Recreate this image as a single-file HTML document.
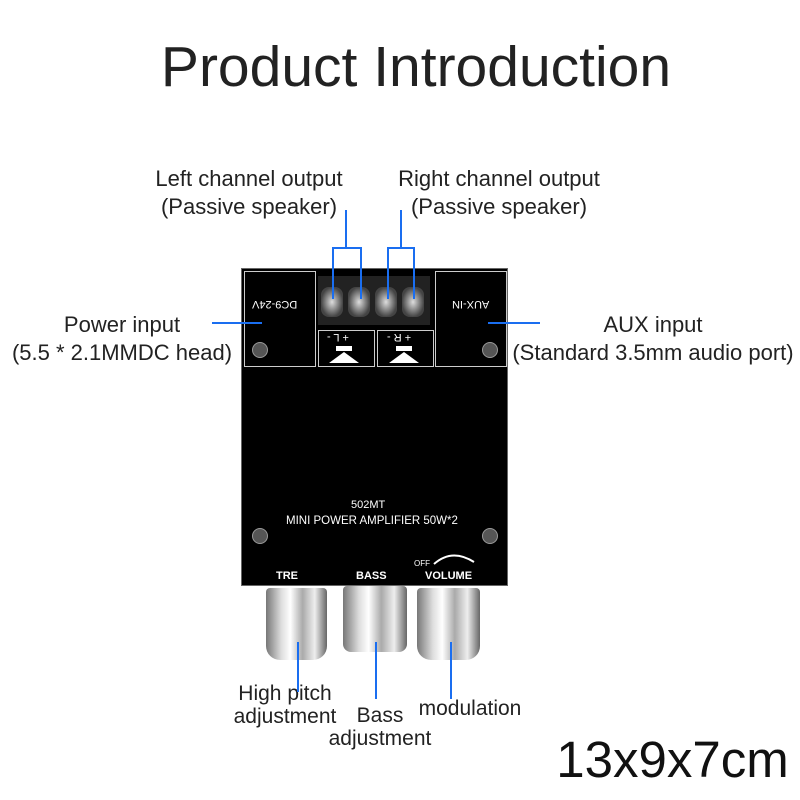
<!DOCTYPE html>
<html><head><style>
body{margin:0;width:800px;height:800px;background:#fff;position:relative;overflow:hidden;font-family:"Liberation Sans",sans-serif;color:#222}
.t{position:absolute;white-space:nowrap;text-align:center}
.l{position:absolute;background:#1a6ef0}
.b{position:absolute;background:#000}
.w{position:absolute;color:#fff;font-size:11px;white-space:nowrap}
.knob{position:absolute;background:linear-gradient(90deg,#777,#ddd 25%,#fff 40%,#aaa 60%,#eee 80%,#666);border-radius:4px 4px 14px 14px}
.screw{position:absolute;width:14px;height:14px;border-radius:50%;background:#555;border:1px solid #999}
.term{position:absolute;width:22px;height:30px;top:287px;border-radius:8px;background:radial-gradient(#ddd,#444 70%)}
</style></head><body>
<div class="t" style="left:0;width:832px;top:34px;font-size:57px;color:#222">Product Introduction</div>
<div class="t" style="left:99px;width:300px;top:165px;font-size:22px;line-height:28px">Left channel output<br>(Passive speaker)</div>
<div class="t" style="left:349px;width:300px;top:165px;font-size:22px;line-height:28px">Right channel output<br>(Passive speaker)</div>
<div class="t" style="left:-28px;width:300px;top:311px;font-size:22px;line-height:28px">Power input<br>(5.5 * 2.1MMDC head)</div>
<div class="t" style="left:503px;width:300px;top:311px;font-size:22px;line-height:28px">AUX input<br>(Standard 3.5mm audio port)</div>
<div class="t" style="left:205px;width:160px;top:682px;font-size:21px;line-height:23px">High pitch<br>adjustment</div>
<div class="t" style="left:300px;width:160px;top:704px;font-size:21px;line-height:23px">Bass<br>adjustment</div>
<div class="t" style="left:390px;width:160px;top:697px;font-size:21px">modulation</div>
<div class="t" style="left:540px;width:265px;top:730px;font-size:51px;color:#111">13x9x7cm</div>

<!-- board -->
<div class="b" style="left:241px;top:268px;width:267px;height:318px;border:1px solid #666;box-sizing:border-box"></div>
<div class="b" style="left:244px;top:271px;width:70px;height:94px;border:1px solid #ccc"></div>
<div class="b" style="left:435px;top:271px;width:70px;height:94px;border:1px solid #ccc"></div>
<div class="w" style="left:252px;top:298px;transform:rotate(180deg)">DC9-24V</div>
<div class="w" style="left:452px;top:298px;transform:rotate(180deg)">AUX-IN</div>
<div class="screw" style="left:252px;top:342px"></div>
<div class="screw" style="left:482px;top:342px"></div>
<div class="screw" style="left:252px;top:528px"></div>
<div class="screw" style="left:482px;top:528px"></div>
<div style="position:absolute;left:318px;top:276px;width:112px;height:49px;background:#222"></div>
<div class="term" style="left:321px"></div><div class="term" style="left:348px"></div>
<div class="term" style="left:375px"></div><div class="term" style="left:402px"></div>
<div class="b" style="left:318px;top:330px;width:55px;height:35px;border:1px solid #ccc"></div>
<div class="b" style="left:377px;top:330px;width:55px;height:35px;border:1px solid #ccc"></div>
<div class="w" style="left:327px;top:331px;transform:rotate(180deg)">+ L -</div>
<div class="w" style="left:387px;top:331px;transform:rotate(180deg)">+ R -</div>
<div style="position:absolute;left:336px;top:346px;width:16px;height:5px;background:#fff"></div>
<div style="position:absolute;left:329px;top:352px;width:0;height:0;border-left:15px solid transparent;border-right:15px solid transparent;border-bottom:11px solid #fff"></div>
<div style="position:absolute;left:396px;top:346px;width:16px;height:5px;background:#fff"></div>
<div style="position:absolute;left:389px;top:352px;width:0;height:0;border-left:15px solid transparent;border-right:15px solid transparent;border-bottom:11px solid #fff"></div>
<div class="w" style="left:351px;top:499px">502MT</div>
<div class="w" style="left:286px;top:515px;font-size:11.5px">MINI POWER  AMPLIFIER 50W*2</div>
<div class="w" style="left:276px;top:570px;font-weight:bold">TRE</div>
<div class="w" style="left:356px;top:570px;font-weight:bold">BASS</div>
<div class="w" style="left:425px;top:570px;font-weight:bold">VOLUME</div>
<div class="w" style="left:414px;top:559px;font-size:8px">OFF</div>
<svg style="position:absolute;left:430px;top:548px" width="50" height="20"><path d="M4 16 Q22 0 44 14" stroke="#fff" stroke-width="2" fill="none"/></svg>
<!-- knobs -->
<div class="knob" style="left:266px;top:588px;width:61px;height:72px"></div>
<div class="knob" style="left:343px;top:586px;width:64px;height:66px;border-radius:4px 4px 8px 8px"></div>
<div class="knob" style="left:417px;top:588px;width:63px;height:72px"></div>
<!-- blue lines -->
<div class="l" style="left:345px;top:210px;width:2px;height:39px"></div>
<div class="l" style="left:332px;top:247px;width:30px;height:2px"></div>
<div class="l" style="left:332px;top:247px;width:2px;height:52px"></div>
<div class="l" style="left:360px;top:247px;width:2px;height:52px"></div>
<div class="l" style="left:400px;top:210px;width:2px;height:39px"></div>
<div class="l" style="left:387px;top:247px;width:28px;height:2px"></div>
<div class="l" style="left:387px;top:247px;width:2px;height:52px"></div>
<div class="l" style="left:413px;top:247px;width:2px;height:52px"></div>
<div class="l" style="left:212px;top:322px;width:50px;height:2px"></div>
<div class="l" style="left:488px;top:322px;width:52px;height:2px"></div>
<div class="l" style="left:297px;top:642px;width:2px;height:50px"></div>
<div class="l" style="left:375px;top:642px;width:2px;height:57px"></div>
<div class="l" style="left:450px;top:642px;width:2px;height:57px"></div>
</body></html>
